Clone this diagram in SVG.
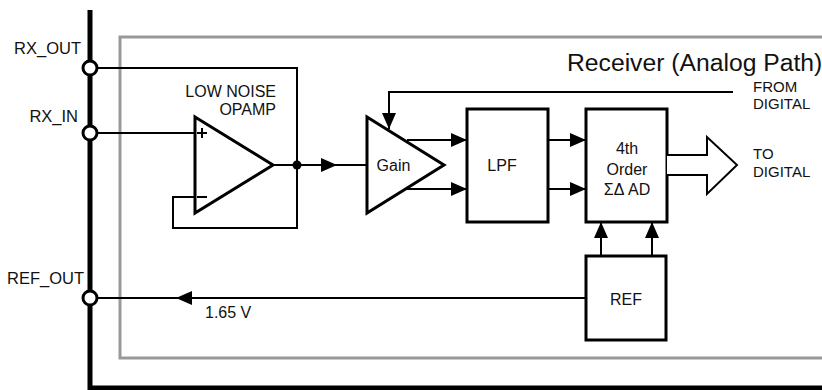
<svg xmlns="http://www.w3.org/2000/svg" width="822" height="390" viewBox="0 0 822 390">
<style>
text{font-family:"Liberation Sans",Arial,Helvetica,sans-serif;fill:#111;font-size:16px}
.sm{font-size:15px}
.blk{fill:#fff;stroke:#000;stroke-width:3}
.w{fill:none;stroke:#000;stroke-width:2}
.pin{fill:#fff;stroke:#000;stroke-width:3}
</style>
<defs>
<marker id="ah" markerUnits="userSpaceOnUse" markerWidth="16" markerHeight="14" refX="16" refY="7" orient="auto">
<path d="M0,0 L16,7 L0,14 Z" fill="#000"/>
</marker>
</defs>
<rect width="822" height="390" fill="#fff"/>
<g id="frame">
<path d="M830,37 H120 V358 H830" fill="none" stroke="#999" stroke-width="3"/>
<path d="M90,10 V388 H830" fill="none" stroke="#000" stroke-width="5"/>
<text x="567" y="71" style="font-size:24.7px">Receiver (Analog Path)</text>
</g>
<g id="connectors">
<path class="w" d="M90,68 H297 V228 H173 V197 H195"/>
<path class="w" d="M90,133 H195"/>
<path class="w" d="M273,165 H297"/>
<path class="w" d="M297,165 H337" marker-end="url(#ah)"/>
<path class="w" d="M330,165 H367"/>
<path class="w" d="M733,92 H389 V129" marker-end="url(#ah)"/>
<path class="w" d="M407,140 H467" marker-end="url(#ah)"/>
<path class="w" d="M407,189 H467" marker-end="url(#ah)"/>
<path class="w" d="M548,140 H586" marker-end="url(#ah)"/>
<path class="w" d="M548,189 H586" marker-end="url(#ah)"/>
<path class="w" d="M601,256 V222" marker-end="url(#ah)"/>
<path class="w" d="M652,256 V222" marker-end="url(#ah)"/>
<path class="w" d="M586,298 H176" marker-end="url(#ah)"/>
<path class="w" d="M190,298 H90"/>
<circle cx="297" cy="165" r="4.5" fill="#000"/>
<text x="205" y="318">1.65 V</text>
</g>
<g id="rx_out">
<circle class="pin" cx="90" cy="68" r="7"/>
<text x="81" y="54" text-anchor="end" style="font-size:16.5px">RX_OUT</text>
</g>
<g id="rx_in">
<circle class="pin" cx="90" cy="133" r="7"/>
<text x="78" y="122" text-anchor="end" style="font-size:16.5px">RX_IN</text>
</g>
<g id="ref_out">
<circle class="pin" cx="90" cy="298" r="7"/>
<text x="84" y="284" text-anchor="end" style="font-size:16.5px">REF_OUT</text>
</g>
<g id="opamp">
<path class="blk" d="M195,117 L273,165 L195,213 Z"/>
<path d="M197,133 H207 M202,128 V138 M197,197 H207" stroke="#000" stroke-width="2"/>
<text x="276" y="97" text-anchor="end">LOW NOISE</text>
<text x="276" y="115" text-anchor="end">OPAMP</text>
</g>
<g id="gain">
<path class="blk" d="M367,117 L444,165 L367,213 Z"/>
<text x="393.5" y="171" text-anchor="middle">Gain</text>
</g>
<g id="lpf">
<rect class="blk" x="467" y="109" width="81" height="113"/>
<text x="502" y="171" text-anchor="middle">LPF</text>
</g>
<g id="adc">
<rect class="blk" x="586" y="109" width="81" height="113"/>
<text x="627" y="154" text-anchor="middle">4th</text>
<text x="627" y="175" text-anchor="middle">Order</text>
<text x="627" y="195" text-anchor="middle">ΣΔ AD</text>
</g>
<g id="ref">
<rect class="blk" x="586" y="256" width="80" height="84"/>
<text x="626" y="305" text-anchor="middle">REF</text>
</g>
<g id="to_digital">
<path d="M667,155 H707 V137 L737,165 L707,194 V175 H667" fill="#fff" stroke="#000" stroke-width="2"/>
<text class="sm" x="753" y="159">TO</text>
<text class="sm" x="753" y="177">DIGITAL</text>
</g>
<g id="from_digital">
<text class="sm" x="753" y="92">FROM</text>
<text class="sm" x="753" y="109">DIGITAL</text>
</g>
</svg>
